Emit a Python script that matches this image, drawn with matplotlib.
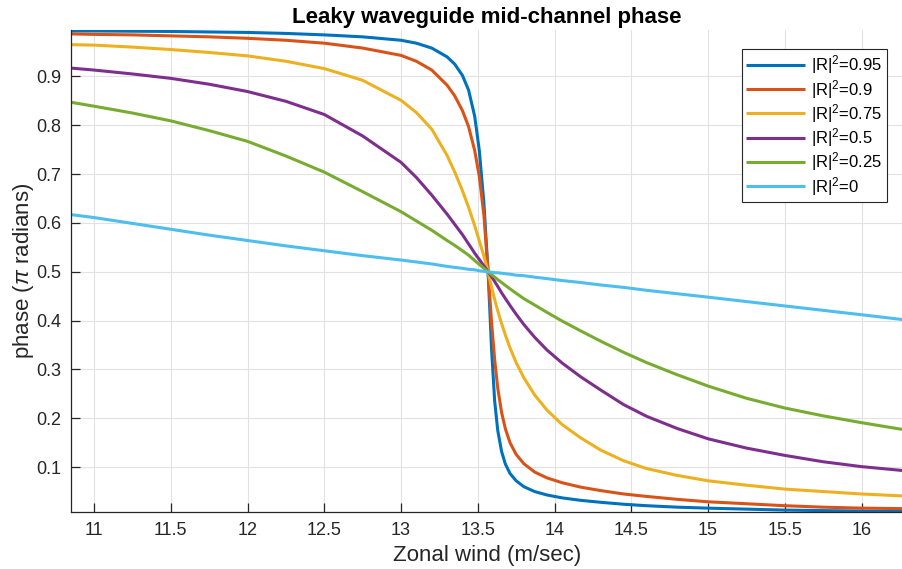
import matplotlib
matplotlib.use("Agg")
import matplotlib.pyplot as plt

plt.rcParams["font.family"] = ["Liberation Sans", "DejaVu Sans"]
plt.rcParams["mathtext.fontset"] = "custom"
plt.rcParams["mathtext.rm"] = "Liberation Sans"
plt.rcParams["mathtext.it"] = "Liberation Sans:italic"

# zonal wind samples (m/sec), denser around the resonance near 13.57
wind = [10.85, 11.0, 11.25, 11.5, 11.75, 12.0, 12.25, 12.5, 12.75, 13.0,
        13.1, 13.2, 13.3, 13.35, 13.4, 13.44, 13.48, 13.51, 13.54, 13.567,
        13.59, 13.61, 13.63, 13.655, 13.68, 13.71, 13.75, 13.8, 13.87, 13.95,
        14.05, 14.17, 14.3, 14.45, 14.6, 14.8, 15.0, 15.25, 15.5, 15.75,
        16.0, 16.27]

# mid-channel phase (units of pi) for each |R|^2
phase_095 = [0.993, 0.993, 0.9925, 0.992, 0.991, 0.990, 0.988, 0.985, 0.981, 0.974,
             0.968, 0.958, 0.940, 0.925, 0.902, 0.872, 0.818, 0.748, 0.640, 0.500,
             0.340, 0.235, 0.175, 0.132, 0.106, 0.087, 0.072, 0.060, 0.050, 0.043,
             0.037, 0.032, 0.028, 0.024, 0.021, 0.018, 0.016, 0.014, 0.012, 0.011,
             0.010, 0.009]
phase_090 = [0.987, 0.986, 0.985, 0.983, 0.981, 0.978, 0.974, 0.968, 0.958, 0.943,
             0.931, 0.913, 0.882, 0.860, 0.830, 0.797, 0.748, 0.695, 0.615, 0.500,
             0.395, 0.320, 0.262, 0.212, 0.178, 0.150, 0.126, 0.107, 0.090, 0.078,
             0.068, 0.059, 0.052, 0.045, 0.040, 0.034, 0.029, 0.025, 0.021, 0.018,
             0.016, 0.015]
phase_075 = [0.965, 0.964, 0.960, 0.955, 0.949, 0.942, 0.931, 0.916, 0.892, 0.851,
             0.826, 0.792, 0.738, 0.704, 0.666, 0.632, 0.594, 0.563, 0.532, 0.500,
             0.468, 0.443, 0.420, 0.394, 0.370, 0.344, 0.314, 0.283, 0.248, 0.217,
             0.187, 0.160, 0.135, 0.113, 0.097, 0.083, 0.072, 0.063, 0.055, 0.050,
             0.045, 0.041]
phase_050 = [0.917, 0.913, 0.905, 0.896, 0.884, 0.869, 0.849, 0.822, 0.778, 0.724,
             0.693, 0.657, 0.618, 0.597, 0.576, 0.557, 0.538, 0.525, 0.512, 0.500,
             0.490, 0.480, 0.470, 0.457, 0.445, 0.431, 0.413, 0.392, 0.366, 0.340,
             0.313, 0.285, 0.258, 0.228, 0.204, 0.179, 0.158, 0.139, 0.124, 0.111,
             0.101, 0.093]
phase_025 = [0.847, 0.839, 0.825, 0.809, 0.789, 0.767, 0.737, 0.704, 0.664, 0.623,
             0.604, 0.585, 0.564, 0.554, 0.543, 0.534, 0.523, 0.515, 0.507, 0.500,
             0.494, 0.489, 0.484, 0.478, 0.472, 0.465, 0.456, 0.445, 0.432, 0.417,
             0.399, 0.379, 0.358, 0.335, 0.314, 0.289, 0.266, 0.241, 0.221, 0.205,
             0.191, 0.177]
phase_000 = [0.617, 0.611, 0.599, 0.587, 0.575, 0.564, 0.553, 0.543, 0.533, 0.524,
             0.520, 0.516, 0.511, 0.509, 0.507, 0.505, 0.504, 0.502, 0.501, 0.500,
             0.499, 0.498, 0.498, 0.497, 0.496, 0.495, 0.493, 0.492, 0.489, 0.486,
             0.482, 0.478, 0.473, 0.468, 0.462, 0.455, 0.448, 0.439, 0.430, 0.421,
             0.412, 0.402]

labels = ["0.95", "0.9", "0.75", "0.5", "0.25", "0"]
series = [phase_095, phase_090, phase_075, phase_050, phase_025, phase_000]
colors = ["#0072BD", "#D95319", "#EDB120", "#7E2F8E", "#77AC30", "#4DBEEE"]

fig = plt.figure(figsize=(9.03, 5.69), dpi=100)
ax = fig.add_axes([71 / 903, 1 - 512.3 / 569, 832 / 903, 482.3 / 569])

for y, lab, c in zip(series, labels, colors):
    ax.plot(wind, y, color=c, lw=2.2, label=r"|R|$^2$=" + lab,
            solid_joinstyle="round", solid_capstyle="butt")

ax.set_xlim(10.85, 16.27)
ax.set_ylim(0.0075, 0.995)
ax.set_xticks([11, 11.5, 12, 12.5, 13, 13.5, 14, 14.5, 15, 15.5, 16])
ax.set_xticklabels(["11", "11.5", "12", "12.5", "13", "13.5", "14", "14.5", "15", "15.5", "16"])
ax.set_yticks([0.1, 0.2, 0.3, 0.4, 0.5, 0.6, 0.7, 0.8, 0.9])
ax.grid(True, color="#e2e2e2", lw=0.8)
ax.set_axisbelow(True)
for s in ["top", "right"]:
    ax.spines[s].set_visible(False)
for s in ["left", "bottom"]:
    ax.spines[s].set_color("#262626")
    ax.spines[s].set_linewidth(0.9)
ax.tick_params(direction="in", length=6.5, width=0.9, color="#262626",
               labelsize=13, labelcolor="#262626", pad=7)

ax.set_title("Leaky waveguide mid-channel phase", fontsize=16, fontweight="bold", pad=5)
ax.set_xlabel("Zonal wind (m/sec)", fontsize=16, color="#262626", labelpad=4)
ax.set_ylabel(r"phase ($\pi$ radians)", fontsize=16, color="#262626", labelpad=0)

leg = ax.legend(loc="upper right", bbox_to_anchor=(886.7 / 903, 1 - 49.3 / 569),
                bbox_transform=fig.transFigure, borderaxespad=0, fancybox=False,
                framealpha=1, edgecolor="#262626", fontsize=12, handlelength=3.5,
                handletextpad=0.4, labelspacing=0.08, borderpad=0.25)
leg.get_frame().set_linewidth(0.8)

fig.savefig("out.png", dpi=100)
